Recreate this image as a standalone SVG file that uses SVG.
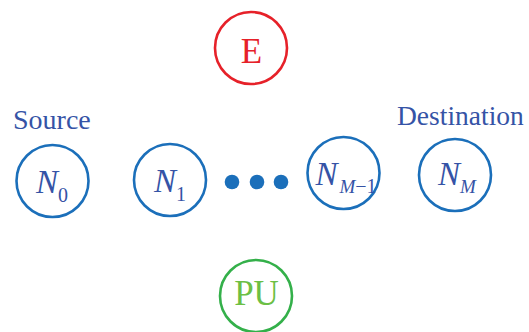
<svg xmlns="http://www.w3.org/2000/svg" width="529" height="332" viewBox="0 0 529 332">
<style>
.node{fill:#fff;stroke:#1b6fba;stroke-width:2.6}
.lbl{font-family:"Liberation Serif","Times New Roman",serif;fill:#3553a6}
.n{font-style:italic;font-size:33px}
.sub{font-size:20px;font-style:normal}
.subi{font-size:19px;font-style:italic}
.dot{fill:#1b6fba}
</style>
<rect width="529" height="332" fill="#fff"/>
<g id="connectors"></g>
<g id="E">
<circle cx="251" cy="48" r="36" fill="#fff" stroke="#e62129" stroke-width="2.6"/>
<text x="251.5" y="63" text-anchor="middle" font-family="Liberation Serif, Times New Roman, serif" font-size="35" fill="#e62129">E</text>
</g>
<g id="source-label"><text class="lbl" x="13" y="129" font-size="28">Source</text></g>
<g id="destination-label"><text class="lbl" x="397" y="125" font-size="27.5">Destination</text></g>
<g id="N0">
<circle class="node" cx="52.5" cy="181" r="36"/>
<text class="lbl n" x="52" y="193" text-anchor="middle">N<tspan class="sub" dy="9">0</tspan></text>
</g>
<g id="N1">
<circle class="node" cx="170" cy="180" r="36"/>
<text class="lbl n" x="170" y="192" text-anchor="middle">N<tspan class="sub" dy="9">1</tspan></text>
</g>
<g id="dots">
<circle class="dot" cx="232" cy="182" r="7.3"/>
<circle class="dot" cx="257" cy="182" r="7.3"/>
<circle class="dot" cx="281" cy="182" r="7.3"/>
</g>
<g id="NM-1">
<circle class="node" cx="343.5" cy="173" r="36"/>
<text class="lbl n" x="346" y="185" text-anchor="middle">N<tspan class="subi" dy="8" dx="2">M</tspan><tspan class="sub" font-size="19">−1</tspan></text>
</g>
<g id="NM">
<circle class="node" cx="455" cy="175" r="36"/>
<text class="lbl n" x="457" y="185" text-anchor="middle">N<tspan class="subi" dy="8">M</tspan></text>
</g>
<g id="PU">
<circle cx="256" cy="296" r="36" fill="#fff" stroke="#34b04a" stroke-width="2.6"/>
<text x="256.5" y="305" text-anchor="middle" font-family="Liberation Serif, Times New Roman, serif" font-size="35" fill="#6cbf45">PU</text>
</g>
</svg>
